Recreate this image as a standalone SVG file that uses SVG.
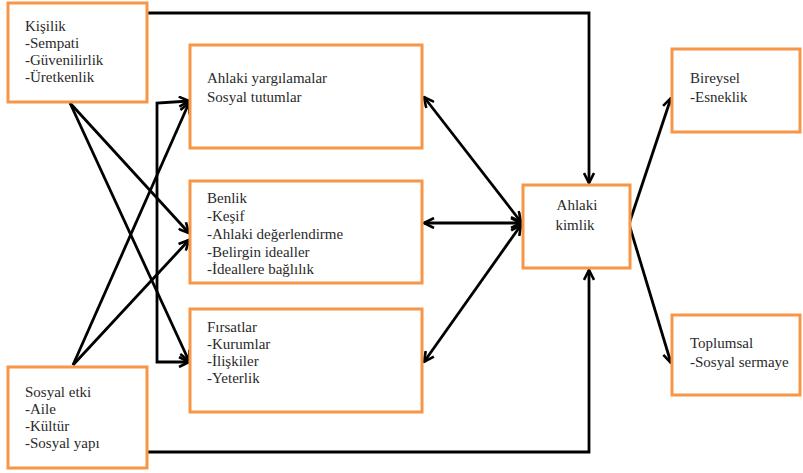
<svg xmlns="http://www.w3.org/2000/svg" width="803" height="473" viewBox="0 0 803 473">
<style>
.box{fill:#fff;stroke:#f79646;stroke-width:3}
.t{font-family:"Liberation Serif","DejaVu Serif",serif;font-size:15px;fill:#2a2a2a}
.c{fill:none;stroke:#000;stroke-width:2.8;stroke-linejoin:miter}
</style>
<defs>
<marker id="ah" viewBox="0 0 12 12" refX="11" refY="6" markerWidth="12" markerHeight="12" markerUnits="userSpaceOnUse" orient="auto-start-reverse">
<path d="M1,1 L11,6 L1,11" fill="none" stroke="#000" stroke-width="2.6"/>
</marker>
</defs>
<rect width="803" height="473" fill="#fff"/>
<g id="connectors">
<path class="c" d="M147,13 H589 V183" marker-end="url(#ah)"/>
<path class="c" d="M147,452 H589 V270" marker-end="url(#ah)"/>
<line class="c" x1="70" y1="103" x2="189" y2="233" marker-end="url(#ah)"/>
<line class="c" x1="70" y1="103" x2="189" y2="361" marker-end="url(#ah)"/>
<line class="c" x1="73" y1="365" x2="189" y2="103" marker-end="url(#ah)"/>
<line class="c" x1="73" y1="365" x2="189" y2="240" marker-end="url(#ah)"/>
<path class="c" d="M189,101 L157,103 V362 H189" marker-start="url(#ah)" marker-end="url(#ah)"/>
<line class="c" x1="424" y1="97" x2="521" y2="222" marker-start="url(#ah)" marker-end="url(#ah)"/>
<line class="c" x1="424" y1="223" x2="521" y2="223" marker-start="url(#ah)" marker-end="url(#ah)"/>
<line class="c" x1="424" y1="362" x2="521" y2="225" marker-start="url(#ah)" marker-end="url(#ah)"/>
<line class="c" x1="629" y1="224" x2="671" y2="98" marker-end="url(#ah)"/>
<line class="c" x1="629" y1="224" x2="671" y2="363" marker-end="url(#ah)"/>
</g>
<g id="kisilik">
<rect class="box" x="8" y="3" width="139" height="99"/>
<text class="t" x="25" y="31">Kişilik</text>
<text class="t" x="25" y="48">-Sempati</text>
<text class="t" x="25" y="65">-Güvenilirlik</text>
<text class="t" x="25" y="82">-Üretkenlik</text>
</g>
<g id="sosyal-etki">
<rect class="box" x="8" y="367" width="139" height="101"/>
<text class="t" x="25" y="397">Sosyal etki</text>
<text class="t" x="25" y="414">-Aile</text>
<text class="t" x="25" y="431">-Kültür</text>
<text class="t" x="25" y="448">-Sosyal yapı</text>
</g>
<g id="ahlaki-yargilamalar">
<rect class="box" x="190" y="45" width="232" height="103"/>
<text class="t" x="207" y="83">Ahlaki yargılamalar</text>
<text class="t" x="207" y="102">Sosyal tutumlar</text>
</g>
<g id="benlik">
<rect class="box" x="190" y="181" width="232" height="102"/>
<text class="t" x="207" y="203">Benlik</text>
<text class="t" x="207" y="221">-Keşif</text>
<text class="t" x="207" y="239">-Ahlaki değerlendirme</text>
<text class="t" x="207" y="257">-Belirgin idealler</text>
<text class="t" x="207" y="274">-İdeallere bağlılık</text>
</g>
<g id="firsatlar">
<rect class="box" x="190" y="309" width="232" height="103"/>
<text class="t" x="207" y="332">Fırsatlar</text>
<text class="t" x="207" y="349">-Kurumlar</text>
<text class="t" x="207" y="366">-İlişkiler</text>
<text class="t" x="207" y="383">-Yeterlik</text>
</g>
<g id="ahlaki-kimlik">
<rect class="box" x="523" y="185" width="107" height="83"/>
<text class="t" x="577" y="210" text-anchor="middle">Ahlaki</text>
<text class="t" x="575" y="230" text-anchor="middle">kimlik</text>
</g>
<g id="bireysel">
<rect class="box" x="672" y="49" width="128" height="83"/>
<text class="t" x="690" y="83">Bireysel</text>
<text class="t" x="690" y="102">-Esneklik</text>
</g>
<g id="toplumsal">
<rect class="box" x="672" y="315" width="128" height="80"/>
<text class="t" x="690" y="348">Toplumsal</text>
<text class="t" x="690" y="367">-Sosyal sermaye</text>
</g>
</svg>
